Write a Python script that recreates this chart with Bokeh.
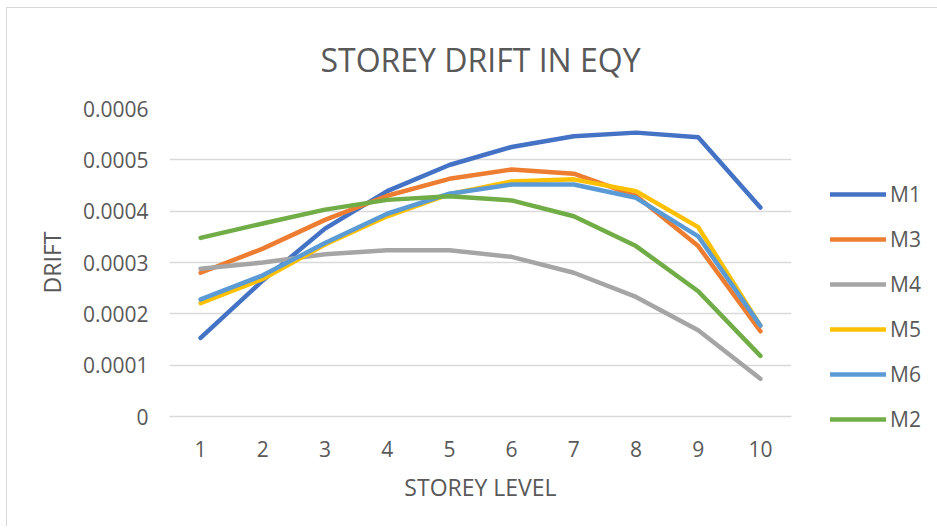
from bokeh.plotting import figure
from bokeh.models import Legend, LegendItem, FixedTicker, Range1d
from bokeh.embed import file_html
from bokeh.resources import INLINE

storey = [1, 2, 3, 4, 5, 6, 7, 8, 9, 10]
M1 = [0.000153, 0.000265, 0.000366, 0.000439, 0.000490, 0.000525, 0.000546, 0.000553, 0.000544, 0.000407]
M3 = [0.000280, 0.000327, 0.000383, 0.000430, 0.000463, 0.000481, 0.000473, 0.000430, 0.000332, 0.000166]
M4 = [0.000288, 0.000300, 0.000316, 0.000324, 0.000324, 0.000311, 0.000280, 0.000233, 0.000168, 0.0000735]
M5 = [0.000221, 0.000268, 0.000335, 0.000390, 0.000433, 0.000458, 0.000462, 0.000439, 0.000369, 0.000177]
M6 = [0.000228, 0.000275, 0.000338, 0.000395, 0.000434, 0.000452, 0.000452, 0.000426, 0.000351, 0.000177]
M2 = [0.000348, 0.000376, 0.000403, 0.000422, 0.000429, 0.000421, 0.000390, 0.000332, 0.000244, 0.000118]

series_names = ["M1", "M3", "M4", "M5", "M6", "M2"]
series_values = [M1, M3, M4, M5, M6, M2]
series_colors = ["#4472C4", "#ED7D31", "#A5A5A5", "#FFC000", "#5B9BD5", "#70AD47"]

y_ticks = [0, 0.0001, 0.0002, 0.0003, 0.0004, 0.0005, 0.0006]
y_tick_labels = ["0", "0.0001", "0.0002", "0.0003", "0.0004", "0.0005", "0.0006"]

TXT = "#595959"
GRID = "#D9D9D9"
FONT = "Open Sans"

p = figure(frame_width=622, frame_height=308, output_backend="svg", toolbar_location=None,
           x_range=Range1d(0.5, 10.5), y_range=Range1d(0, 0.0006),
           min_border_left=162, min_border_right=0, min_border_top=100, min_border_bottom=110,
           title="STOREY DRIFT IN EQY")
p.margin = (7, 0, 0, 6)
p.styles = {"border-left": "1.5px solid #D9D9D9", "border-top": "1.5px solid #D9D9D9"}

p.title.align = "center"
p.title.text_font = FONT
p.title.text_font_size = "32px"
p.title.text_font_style = "normal"
p.title.text_color = TXT
p.title.offset = 0
p.title.standoff = 55

p.outline_line_color = None
p.background_fill_color = "white"
p.border_fill_color = "white"

p.xgrid.grid_line_color = None
p.ygrid.grid_line_color = GRID
p.ygrid.grid_line_width = 1.5

p.xaxis.ticker = FixedTicker(ticks=storey)
p.xaxis.axis_line_color = GRID
p.xaxis.axis_line_width = 1.5
p.xaxis.major_tick_line_color = None
p.xaxis.minor_tick_line_color = None
p.xaxis.major_label_text_font = FONT
p.xaxis.major_label_text_font_size = "21px"
p.xaxis.major_label_text_color = TXT
p.xaxis.major_label_standoff = 18
p.xaxis.axis_label = "STOREY LEVEL"
p.xaxis.axis_label_text_font = FONT
p.xaxis.axis_label_text_font_size = "23px"
p.xaxis.axis_label_text_font_style = "normal"
p.xaxis.axis_label_text_color = TXT
p.xaxis.axis_label_standoff = 11

p.yaxis.ticker = FixedTicker(ticks=y_ticks)
p.yaxis.major_label_overrides = dict(zip(y_ticks, y_tick_labels))
p.yaxis.axis_line_color = None
p.yaxis.major_tick_line_color = None
p.yaxis.minor_tick_line_color = None
p.yaxis.major_label_text_font = FONT
p.yaxis.major_label_text_font_size = "21px"
p.yaxis.major_label_standoff = 15
p.yaxis.major_label_text_color = TXT
p.yaxis.axis_label = "DRIFT"
p.yaxis.axis_label_text_font = FONT
p.yaxis.axis_label_text_font_size = "23px"
p.yaxis.axis_label_text_font_style = "normal"
p.yaxis.axis_label_text_color = TXT
p.yaxis.axis_label_standoff = 12

items = []
for name, vals, col in zip(series_names, series_values, series_colors):
    r = p.line(storey, vals, line_color=col, line_width=4.5, line_cap="round", line_join="round")
    items.append(LegendItem(label=name, renderers=[r]))

legend = Legend(items=items, location=(39, -17), glyph_width=56, glyph_height=28,
                label_height=28, spacing=17, padding=0, margin=0, label_standoff=4,
                border_line_color=None, background_fill_alpha=0,
                label_text_font=FONT, label_text_font_size="21px", label_text_color=TXT)
p.add_layout(legend, "right")

open("out.html", "w").write(file_html(p, INLINE))
